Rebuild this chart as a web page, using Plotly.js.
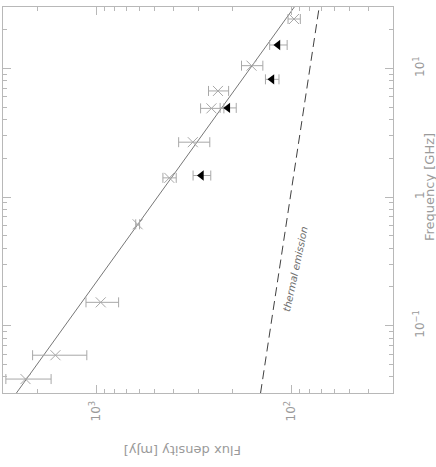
<!DOCTYPE html>
<html>
<head>
<meta charset="utf-8">
<script src="https://cdn.plot.ly/plotly-3.0.1.min.js"></script>
<style>html,body{margin:0;padding:0;background:#fff;}#chart{width:436px;height:467px;}</style>
</head>
<body>
<div id="chart"></div>
<script>
// Measured flux densities (grey crosses)
const measFreq = [24.2, 10.5, 6.68, 4.89, 2.67, 1.41, 0.614, 0.152, 0.059, 0.0385]; // GHz
const measFlux = [96.6, 159.5, 237, 256, 319, 421, 612, 946, 1615, 2300];          // mJy
const measErr  = [7, 20, 28, 35, 58, 33, 14, 180, 500, 600];                        // mJy

// Second data set (black triangles)
const triFreq = [15.2, 8.22, 4.93, 1.47];
const triFlux = [116.7, 125.3, 211, 288];
const triErr  = [12, 10, 20, 30];

// Power-law fit (solid line) end points
const fitFreq = [0.03, 30];
const fitFlux = [2560, 96.2];

// Thermal emission component (dashed line) end points
const thermFreq = [0.03, 30];
const thermFlux = [143.3, 71.7];

// Tick labels
const fluxTickVals = [100, 1000];
const fluxTickText = ['10<sup>2</sup>', '10<sup>3</sup>'];
const freqTickVals = [0.1, 1, 10];
const freqTickText = ['10<sup>\u22121</sup>', '1', '10<sup>1</sup>'];
const fluxMinor = [30,40,50,60,70,80,90,200,300,400,500,600,700,800,900,2000,3000];
const freqMinor = [0.03,0.04,0.05,0.06,0.07,0.08,0.09,0.2,0.3,0.4,0.5,0.6,0.7,0.8,0.9,2,3,4,5,6,7,8,9,20,30];

const grey = '#a8a8a8';
const textGrey = '#9a9a9a';
const axisGrey = '#b8b8b8';
const font = 'DejaVu Sans, sans-serif';

const traces = [
  {x: fitFlux, y: fitFreq, mode: 'lines', line: {color: '#777777', width: 1}, hoverinfo: 'skip'},
  {x: thermFlux, y: thermFreq, mode: 'lines', line: {color: '#404040', width: 1, dash: '9px,5px'}, hoverinfo: 'skip'},
  {x: measFlux, y: measFreq, mode: 'markers',
   marker: {symbol: 'x-thin-open', size: 10, line: {color: grey, width: 1}, color: grey},
   error_x: {type: 'data', array: measErr, visible: true, color: grey, thickness: 1, width: 5}},
  {x: triFlux, y: triFreq, mode: 'markers',
   marker: {symbol: 'triangle-left', size: 9, color: '#000'},
   error_x: {type: 'data', array: triErr, visible: true, color: grey, thickness: 1, width: 5}}
];

const layout = {
  width: 436, height: 467,
  margin: {l: 3, r: 43, t: 7, b: 74},
  paper_bgcolor: '#fff', plot_bgcolor: '#fff',
  showlegend: false,
  font: {family: font, color: textGrey, size: 12},
  xaxis: {
    type: 'log', range: [Math.log10(3000), Math.log10(30)],
    showgrid: false, zeroline: false,
    showline: true, linecolor: axisGrey, linewidth: 1, mirror: 'allticks',
    ticks: 'inside', ticklen: 8, tickcolor: axisGrey, tickwidth: 1,
    tickmode: 'array', tickvals: fluxTickVals, ticktext: fluxTickText,
    tickangle: -90, ticklabelstandoff: 2,
    tickfont: {family: font, color: textGrey, size: 12},
    minor: {tickmode: 'array', tickvals: fluxMinor, ticks: 'inside', ticklen: 4, tickcolor: axisGrey, showgrid: false}
  },
  yaxis: {
    type: 'log', range: [Math.log10(0.03), Math.log10(30)], side: 'right',
    showgrid: false, zeroline: false,
    showline: true, linecolor: axisGrey, linewidth: 1, mirror: 'allticks',
    ticks: 'inside', ticklen: 8, tickcolor: axisGrey, tickwidth: 1,
    tickmode: 'array', tickvals: freqTickVals, ticktext: freqTickText,
    tickangle: -90, ticklabelstandoff: 16,
    tickfont: {family: font, color: textGrey, size: 12},
    minor: {tickmode: 'array', tickvals: freqMinor, ticks: 'inside', ticklen: 4, tickcolor: axisGrey, showgrid: false}
  },
  annotations: [
    {xref: 'paper', yref: 'paper', x: (183 - 3) / 390, y: -(451 - 393) / 386,
     text: 'Flux density [mJy]', showarrow: false, textangle: 180,
     font: {family: font, color: textGrey, size: 13}, xanchor: 'center', yanchor: 'middle'},
    {xref: 'paper', yref: 'paper', x: (429 - 3) / 390, y: (393 - 187) / 386,
     text: 'Frequency [GHz]', showarrow: false, textangle: -90,
     font: {family: font, color: textGrey, size: 13}, xanchor: 'center', yanchor: 'middle'},
    {xref: 'x', yref: 'y', x: Math.log10(95.3), y: Math.log10(0.275),
     text: '<i>thermal emission</i>', showarrow: false, textangle: -78,
     font: {family: font, color: '#707070', size: 10}, xanchor: 'center', yanchor: 'middle'}
  ]
};

Plotly.newPlot('chart', traces, layout, {staticPlot: true, displayModeBar: false});
</script>
</body>
</html>
